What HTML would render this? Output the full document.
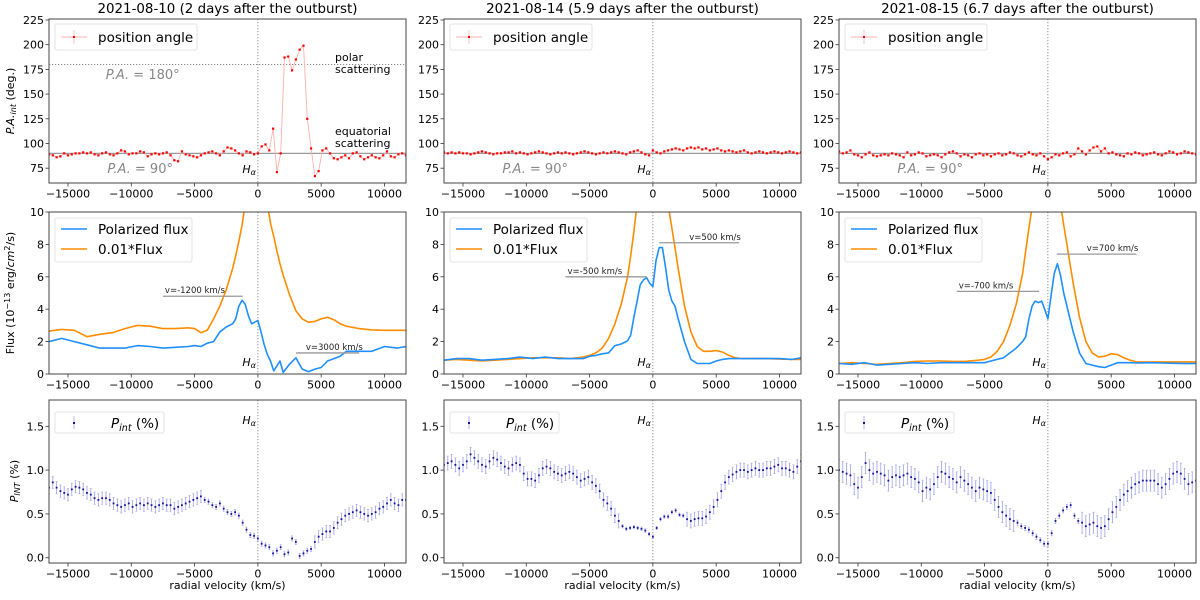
<!DOCTYPE html>
<html><head><meta charset="utf-8"><style>
body{margin:0;background:#fff;}
svg{display:block;font-family:"DejaVu Sans","Liberation Sans",sans-serif;}
</style></head><body>
<svg id="fig" width="1200" height="600" viewBox="0 0 1200 600" xmlns="http://www.w3.org/2000/svg"></svg>
<script>
// ---- data ----
const titles = ["2021-08-10 (2 days after the outburst)","2021-08-14 (5.9 days after the outburst)","2021-08-15 (6.7 days after the outburst)"];
const xTicks = [-15000,-10000,-5000,0,5000,10000];
const xTickLabels = ["−15000","−10000","−5000","0","5000","10000"];
const paTicks = [75,100,125,150,175,200,225];
const fluxTicks = [0,2,4,6,8,10];
const pTicks = [0.0,0.5,1.0,1.5];
const pTickLabels = ["0.0","0.5","1.0","1.5"];
// sample velocity grid (km/s) for PA and P_int
const velStart = -16500, velStep = 300, velCount = 95;
const paData0 = [89,88,86,87,90,88,89,90,90,91, 90,91,89,88,90,91,89,88,90,93, 92,89,90,90,92,91,87,89,90,89, 90,91,88,83,82,92,89,88,87,86, 88,90,91,92,90,88,92,96,95,93, 90,88,92,91,89,
 90,97,99,93,115,71,90,187,188,174,185,195,199,125,95,67,72,93,95,90,85,84,86,88,85,90,91,87,84,86,88,86,85,88,92,87,86,89,90,88];
const paData1 = [91,90,91,90,91,90,90,89,90,91, 92,91,90,89,90,90,91,91,92,90, 91,90,89,90,91,92,91,90,89,90, 91,90,91,90,89,90,91,92,91,90, 89,90,91,90,91,92,91,90,89,91, 92,93,91,89,88,
 93,91,90,92,93,94,95,94,93,95, 96,95,96,94,95,93,94,95,93,92, 93,92,91,92,93,91,90,91,92,91, 90,91,92,91,90,91,92,91,90,91];
const paData2 = [92,90,91,93,89,88,86,89,91,88, 87,88,89,88,90,89,88,86,91,88, 89,91,90,87,88,89,88,86,89,91, 92,90,87,89,88,86,89,90,88,89, 87,89,90,88,89,91,90,88,87,89, 91,89,88,90,87,
 84,86,89,88,90,91,87,89,95,92, 89,93,96,97,92,95,90,91,89,88, 87,90,89,91,90,88,89,90,91,89, 88,90,92,91,89,90,92,91,90,89];
const pData0 = [0.80,0.86,0.80,0.76,0.74,0.72,0.78,0.81,0.80,0.78, 0.74,0.72,0.68,0.66,0.68,0.68,0.66,0.62,0.60,0.58, 0.60,0.62,0.58,0.60,0.62,0.60,0.62,0.60,0.58,0.60, 0.62,0.60,0.60,0.56,0.58,0.60,0.62,0.64,0.66,0.68, 0.70,0.66,0.64,0.60,0.58,0.62,0.56,0.52,0.50,0.52, 0.48,0.40,0.32,0.26,0.25,
 0.22,0.16,0.14,0.12,0.05,0.08,0.12,0.04,0.06,0.22, 0.18,0.02,0.05,0.08,0.10,0.18,0.24,0.27,0.30,0.30, 0.34,0.40,0.44,0.48,0.50,0.52,0.54,0.52,0.50,0.48, 0.50,0.52,0.56,0.58,0.62,0.66,0.62,0.60,0.66,0.66];
const pData1 = [1.06,1.08,1.10,1.06,1.02,1.06,1.10,1.18,1.14,1.10, 1.06,1.04,1.10,1.14,1.12,1.08,1.04,1.02,1.06,1.08, 1.06,0.96,0.90,0.90,0.88,0.94,1.02,1.04,1.02,0.98, 0.96,0.94,0.96,0.98,0.96,0.92,0.88,0.90,0.92,0.86, 0.82,0.76,0.66,0.62,0.56,0.48,0.42,0.36,0.33,0.34, 0.35,0.34,0.33,0.31,0.27,
 0.24,0.34,0.44,0.47,0.47,0.52,0.54,0.49,0.48,0.44, 0.42,0.44,0.45,0.45,0.47,0.52,0.58,0.66,0.76,0.86, 0.92,0.95,0.98,1.00,1.00,0.98,1.00,1.02,1.00,1.00, 1.02,1.02,1.04,1.06,1.02,1.02,1.00,0.98,1.04,1.10];
const pData2 = [1.00,0.98,0.96,0.94,0.84,0.80,0.92,1.08,1.00,0.96, 0.98,0.96,0.94,0.88,0.92,0.94,0.92,0.94,0.96,0.92, 0.90,0.86,0.76,0.80,0.78,0.84,0.92,0.98,0.96,0.92, 0.90,0.86,0.92,0.88,0.84,0.80,0.76,0.80,0.78,0.76, 0.74,0.66,0.58,0.52,0.48,0.44,0.42,0.40,0.36,0.34, 0.32,0.28,0.24,0.20,0.16,
 0.16,0.28,0.42,0.48,0.54,0.58,0.60,0.48,0.42,0.40, 0.36,0.38,0.40,0.36,0.34,0.36,0.44,0.52,0.58,0.66, 0.72,0.76,0.80,0.84,0.86,0.88,0.88,0.88,0.88,0.84, 0.80,0.84,0.90,0.96,0.98,0.96,0.90,0.84,0.86,0.88];
const pErrWide = [0.07,0.08,0.12];
const pErrCore = [0.03,0.02,0.03];
const fluxV = [-16500,-15500,-14500,-13500,-12500,-11500,-10500,-9500,-8500,-7500,-6500,-5500,-5000,-4500,-4000,-3500,-3000,-2500,-2000,-1750,-1500,-1250,-1000,-750,-500,-250,0,250,500,750,1000,1250,1500,1750,2000,2500,3000,3500,4000,4500,5000,5500,6000,6500,7000,8000,9000,10000,11000,11700];
const polFlux0 = [2.0,2.2,2.0,1.8,1.6,1.6,1.6,1.75,1.7,1.6,1.65,1.7,1.75,1.7,1.9,2.0,2.6,2.9,3.1,3.4,4.2,4.55,4.3,3.6,3.1,3.2,3.3,2.6,1.8,1.2,0.8,0.2,0.5,0.8,0.1,0.6,1.0,0.3,0.15,0.3,0.4,0.8,0.95,1.1,1.4,1.4,1.4,1.7,1.6,1.7];
const flux0 = [2.65,2.75,2.7,2.3,2.45,2.55,2.8,3.0,2.95,2.8,2.8,2.85,2.8,2.55,2.7,3.4,4.2,5.2,6.5,7.3,8.2,9.2,10.5,12,13,14,14,13,12,10.5,9.3,8.5,7.6,6.8,6.1,4.9,3.9,3.4,3.2,3.25,3.4,3.5,3.35,3.1,2.95,2.8,2.72,2.7,2.7,2.7];
const polFlux1 = [0.85,0.95,0.95,0.85,0.9,0.95,1.05,0.95,1.05,0.95,0.95,0.95,1.1,1.15,1.25,1.3,1.75,1.85,2.05,2.4,3.5,4.5,5.5,5.8,5.95,5.6,5.4,7.0,7.8,7.8,6.6,5.2,4.5,4.2,3.4,2.0,0.9,0.65,0.65,0.65,0.8,0.9,0.95,0.95,0.95,0.95,0.95,0.95,0.9,1.0];
const flux1 = [0.85,0.9,0.85,0.8,0.85,0.9,0.95,1.0,1.0,1.0,0.95,1.05,1.15,1.3,1.6,2.2,3.1,4.3,6.0,7.3,8.8,10.5,13,15,16,16,16,16,15,13,11.5,10.2,9.0,7.8,6.5,4.2,2.6,1.7,1.4,1.4,1.45,1.35,1.15,1.0,0.95,0.95,0.95,0.92,0.9,0.9];
const polFlux2 = [0.65,0.6,0.7,0.55,0.6,0.65,0.7,0.65,0.7,0.7,0.7,0.7,0.7,0.8,0.9,1.0,1.3,1.6,2.0,2.3,3.4,4.2,4.5,4.4,4.5,4.0,3.4,4.8,6.2,6.8,6.1,5.0,4.2,3.4,2.6,1.3,0.65,0.55,0.45,0.4,0.55,0.7,0.7,0.7,0.68,0.7,0.68,0.66,0.64,0.65];
const flux2 = [0.65,0.7,0.65,0.6,0.65,0.7,0.78,0.8,0.8,0.78,0.78,0.85,0.9,1.05,1.4,2.0,3.0,4.3,6.2,7.6,9.0,10.3,12,14,16,16,16,15,13.5,12,10.5,9.2,8.0,6.8,5.6,3.5,2.0,1.3,1.05,1.1,1.25,1.2,1.0,0.85,0.75,0.75,0.75,0.75,0.75,0.75];
const annotV = [[-1200,3000],[-500,500],[-700,700]];
const annotY = [[4.8,1.3],[6.0,8.1],[5.1,7.4]];
const annotStart = [[-7500,3000],[-6900,500],[-7200,700]];
const annotEnd = [[-1200,8000],[-500,6800],[-700,7000]];

// ---- layout ----
const NS="http://www.w3.org/2000/svg";
const svg=document.getElementById('fig');
const colL=[49,444,839], colW=357;
const rows=[[19,183],[212,374],[400,563]];
const XMIN=-16500, XMAX=11700;
const yRanges=[[60,226],[0,10],[-0.06,1.8]];
function mk(tag,attrs,parent){const e=document.createElementNS(NS,tag);for(const k in attrs)e.setAttribute(k,attrs[k]);(parent||svg).appendChild(e);return e;}
function sx(c,v){return colL[c]+(v-XMIN)/(XMAX-XMIN)*colW;}
function sy(r,v){const [t,b]=rows[r],[lo,hi]=yRanges[r];return b-(v-lo)/(hi-lo)*(b-t);}
function txt(x,y,s,size,attrs,parent){const e=mk('text',Object.assign({x:x,y:y,'font-size':size},attrs||{}),parent);e.textContent=s;return e;}
const vel=[];for(let i=0;i<velCount;i++)vel.push(velStart+i*velStep);
const paSets=[paData0,paData1,paData2], pSets=[pData0,pData1,pData2];
const polSets=[polFlux0,polFlux1,polFlux2], fluxSets=[flux0,flux1,flux2];

const defs=mk('defs',{});
for(let c=0;c<3;c++)for(let r=0;r<3;r++){const cp=mk('clipPath',{id:'cp'+c+r},defs);mk('rect',{x:colL[c],y:rows[r][0],width:colW,height:rows[r][1]-rows[r][0]},cp);}

for(let c=0;c<3;c++){
  const t=txt(colL[c]+colW/2,13,titles[c],13.4,{'text-anchor':'middle',fill:'#000'});
  
  
  for(let r=0;r<3;r++){
    const [top,bot]=rows[r];
    const g=mk('g',{});
    
    
    xTicks.forEach((v,i)=>{const x=sx(c,v);mk('line',{x1:x,x2:x,y1:bot,y2:bot+3.5,stroke:'#333','stroke-width':0.8},g);
      const l=txt(x,bot+14.5,xTickLabels[i],11,{'text-anchor':'middle'},g);
      
      });
    let ticks,labs;
    if(r==0){ticks=paTicks;labs=paTicks.map(String);}else if(r==1){ticks=fluxTicks;labs=fluxTicks.map(String);}else{ticks=pTicks;labs=pTickLabels;}
    ticks.forEach((v,i)=>{const y=sy(r,v);mk('line',{x1:colL[c]-3.5,x2:colL[c],y1:y,y2:y,stroke:'#333','stroke-width':0.8},g);
      const l=txt(colL[c]-5,y+4,labs[i],11,{'text-anchor':'end'},g);
      
      });
    const plot=mk('g',{'clip-path':'url(#cp'+c+r+')'},g);
    mk('line',{x1:sx(c,0),x2:sx(c,0),y1:top,y2:bot,stroke:'#777','stroke-width':0.8,'stroke-dasharray':'1.2,1.8'},plot);
    if(r==0){
      mk('line',{x1:colL[c],x2:colL[c]+colW,y1:sy(0,90),y2:sy(0,90),stroke:'#999','stroke-width':1.2},plot);
      if(c==0) mk('line',{x1:colL[c],x2:colL[c]+colW,y1:sy(0,180),y2:sy(0,180),stroke:'#777','stroke-width':0.8,'stroke-dasharray':'1.2,1.8'},plot);
      const d=paSets[c];
      const pts=vel.map((v,i)=>sx(c,v).toFixed(1)+','+sy(0,d[i]).toFixed(1)).join(' ');
      const pl=mk('polyline',{points:pts,fill:'none',stroke:'#ffb0b0','stroke-width':0.9},plot);
      
      
      vel.forEach((v,i)=>{const m=mk('rect',{x:sx(c,v)-1.1,y:sy(0,d[i])-1.1,width:2.2,height:2.2,fill:'#f00'},plot);
        
        });
    } else if(r==1){
      const mkLine=(arr,col,name)=>{const pts=fluxV.map((v,i)=>sx(c,v).toFixed(1)+','+sy(1,arr[i]).toFixed(1)).join(' ');
        const pl=mk('polyline',{points:pts,fill:'none',stroke:col,'stroke-width':1.6,'stroke-linejoin':'round'},plot);
        
        };
      mkLine(fluxSets[c],'#ff8c00','flux-line');
      mkLine(polSets[c],'#1e8fff','polarized-flux-line');
      for(let k=0;k<2;k++){
        const y=sy(1,annotY[c][k]);
        const ln=mk('line',{x1:sx(c,annotStart[c][k]),x2:sx(c,annotEnd[c][k]),y1:y,y2:y,stroke:'#999','stroke-width':1.3},g);
        
        
        const tx=k==0?sx(c,annotStart[c][k])+2:sx(c,annotV[c][k])+(c==0?10:30);
        const l=txt(tx,y-3,'v='+annotV[c][k]+' km/s',8.5,{fill:'#222'},g);
        
        
      }
    } else {
      const d=pSets[c];
      vel.forEach((v,i)=>{const x=sx(c,v);const e=Math.abs(v)<(c==0?4500:2600)?pErrCore[c]:pErrWide[c];
        const b=mk('g',{},plot);
        
        
        const y1=sy(2,d[i]-e),y2=sy(2,d[i]+e);
        mk('line',{x1:x,x2:x,y1:y1,y2:y2,stroke:'#a0a0e6','stroke-width':0.8},b);
        mk('line',{x1:x-1,x2:x+1,y1:y1,y2:y1,stroke:'#a0a0e6','stroke-width':0.6},b);
        mk('line',{x1:x-1,x2:x+1,y1:y2,y2:y2,stroke:'#a0a0e6','stroke-width':0.6},b);
        mk('rect',{x:x-0.9,y:sy(2,d[i])-0.9,width:1.8,height:1.8,fill:'#1010a0'},b);});
    }
    const fr=mk('rect',{x:colL[c],y:top,width:colW,height:bot-top,fill:'none',stroke:'#444','stroke-width':1},g);
    
    
    const hy=r==0?173:(r==1?366:424);
    const h=mk('text',{x:sx(c,0)-2,y:hy,'font-size':11,'text-anchor':'end','font-style':'italic'},g);
    h.innerHTML='H<tspan font-size="8" dy="2">α</tspan>';
    
    
    const L=colL[c];
    if(r==0){
      const lg=mk('g',{},g);
      
      
      mk('rect',{x:L+6,y:top+5,width:142,height:26,rx:2,fill:'#fff',stroke:'#ddd','stroke-width':0.8},lg);
      mk('line',{x1:L+12,x2:L+38,y1:top+18,y2:top+18,stroke:'#ffb0b0','stroke-width':0.9},lg);
      mk('line',{x1:L+25,x2:L+25,y1:top+11,y2:top+25,stroke:'#ffb0b0','stroke-width':0.8},lg);
      mk('rect',{x:L+24,y:top+17,width:2,height:2,fill:'#f00'},lg);
      txt(L+49,top+23,'position angle',13.5,{},lg);
      const p90=mk('text',{x:sx(c,-9300),y:173,'font-size':13,fill:'#888','font-style':'italic','text-anchor':'middle'},g);
      p90.innerHTML='P.A. <tspan font-style="normal">= 90°</tspan>';
      
      
      if(c==0){
        const p180=mk('text',{x:sx(c,-9100),y:79,'font-size':13,fill:'#888','font-style':'italic','text-anchor':'middle'},g);
        p180.innerHTML='P.A. <tspan font-style="normal">= 180°</tspan>';
        
        
        [['polar',61],['scattering',73],['equatorial',135],['scattering',147]].forEach(a=>{const l=txt(335,a[1],a[0],11,{},g);
          
          });
      }
    } else if(r==1){
      const lg=mk('g',{},g);
      
      
      mk('rect',{x:L+6,y:top+6,width:137,height:44,rx:2,fill:'#fff',stroke:'#ddd','stroke-width':0.8},lg);
      mk('line',{x1:L+12,x2:L+38,y1:top+17,y2:top+17,stroke:'#1e8fff','stroke-width':1.6},lg);
      mk('line',{x1:L+12,x2:L+38,y1:top+37,y2:top+37,stroke:'#ff8c00','stroke-width':1.6},lg);
      txt(L+49,top+22,'Polarized flux',13.5,{},lg);
      txt(L+49,top+42,'0.01*Flux',13.5,{},lg);
    } else {
      const lg=mk('g',{},g);
      
      
      mk('rect',{x:L+6,y:top+12,width:109,height:21,rx:2,fill:'#fff',stroke:'#ddd','stroke-width':0.8},lg);
      mk('line',{x1:L+25,x2:L+25,y1:top+16,y2:top+29,stroke:'#a0a0e6','stroke-width':0.8},lg);
      mk('rect',{x:L+24,y:top+22,width:2,height:2,fill:'#1010a0'},lg);
      const t2=mk('text',{x:L+62,y:top+28,'font-size':13.5},lg);
      t2.innerHTML='<tspan font-style="italic">P</tspan><tspan font-style="italic" font-size="9.5" dy="3">int</tspan><tspan dy="-3"> (%)</tspan>';
      const xl=txt(L+colW/2,589,'radial velocity (km/s)',11,{'text-anchor':'middle'},g);
      
      
    }
  }
}
const yt1=mk('text',{transform:'translate(14,101) rotate(-90)','font-size':11,'text-anchor':'middle'});
yt1.innerHTML='<tspan font-style="italic">P.A.</tspan><tspan font-style="italic" font-size="8" dy="2">int</tspan><tspan dy="-2"> (deg.)</tspan>';


const yt2=mk('text',{transform:'translate(14,293) rotate(-90)','font-size':11,'text-anchor':'middle'});
yt2.innerHTML='Flux (10<tspan font-size="8" dy="-4">−13</tspan><tspan dy="4"> erg/</tspan><tspan font-style="italic">cm</tspan><tspan font-size="8" dy="-4">2</tspan><tspan dy="4">/s)</tspan>';


const yt3=mk('text',{transform:'translate(18,481) rotate(-90)','font-size':11,'text-anchor':'middle'});
yt3.innerHTML='<tspan font-style="italic">P</tspan><tspan font-style="italic" font-size="8" dy="2">INT</tspan><tspan dy="-2"> (%)</tspan>';


</script>
</body></html>
